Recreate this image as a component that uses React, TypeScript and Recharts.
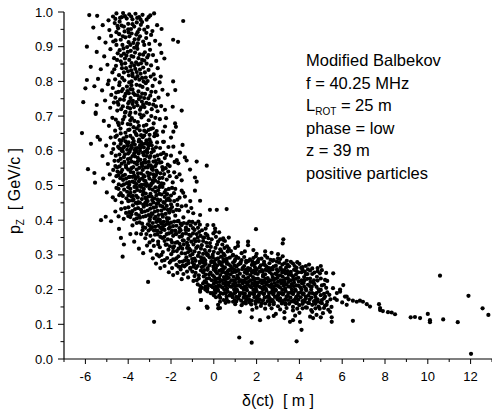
import React from 'react';
import { ScatterChart, Scatter, XAxis, YAxis } from 'recharts';

// tick values
const xTicks = [-7, -6, -5, -4, -3, -2, -1, 0, 1, 2, 3, 4, 5, 6, 7, 8, 9, 10, 11, 12, 13];
const yTicks = [0, 0.05, 0.1, 0.15, 0.2, 0.25, 0.3, 0.35, 0.4, 0.45, 0.5, 0.55, 0.6, 0.65, 0.7, 0.75, 0.8, 0.85, 0.9, 0.95, 1.0];

// annotation lines
const noteLines = ['Modified Balbekov', 'f = 40.25 MHz', 'L|ROT| = 25 m', 'phase = low', 'z = 39 m', 'positive particles'];

// particles: [delta(ct) in m, pz in GeV/c]
const topPts: [number, number][] = [
  [-5.82,0.991],[-5.45,0.989],[-4.92,0.976],[-4.71,0.987],[-4.55,0.996],[-4.38,0.983],[-4.24,0.997],[-4.07,0.981],[-3.95,0.993],[-3.8,0.979],[-3.66,0.995],[-3.49,0.985],[-3.33,0.992],[-3.14,0.978],[-2.97,0.99],[-2.79,0.996],[-1.43,0.974],[-4.15,0.988],[-3.58,0.983],
  [-5.63,0.955],[-5.19,0.962],[-4.88,0.948],[-4.63,0.968],[-4.47,0.953],[-4.31,0.961],[-4.17,0.944],[-4.0,0.966],[-3.87,0.951],[-3.72,0.958],[-3.56,0.942],[-3.41,0.963],[-3.25,0.949],[-3.09,0.957],[-2.87,0.945],[-2.65,0.962],[-4.4,0.972],[-3.98,0.941],[-3.35,0.971],[-2.44,0.951],
  [-5.93,0.9],[-5.35,0.925],[-5.06,0.912],[-4.8,0.931],[-4.59,0.918],[-4.42,0.936],[-4.27,0.905],[-4.13,0.927],[-3.98,0.913],[-3.84,0.938],[-3.7,0.921],[-3.59,0.903],[-3.45,0.93],[-3.3,0.915],[-3.16,0.925],[-3.02,0.908],[-2.93,0.934],[-2.74,0.917],[-2.52,0.906],[-1.9,0.92],[-1.67,0.914],[-4.05,0.899],[-3.76,0.911],[-3.52,0.922],[-3.94,0.93],[-4.55,0.905],
  [-5.47,0.885],[-5.12,0.872],[-4.83,0.893],[-4.66,0.867],[-4.49,0.881],[-4.35,0.858],[-4.22,0.895],[-4.08,0.874],[-3.95,0.862],[-3.88,0.888],[-3.76,0.871],[-3.63,0.855],[-3.57,0.894],[-3.46,0.878],[-3.35,0.862],[-3.22,0.884],[-3.11,0.869],[-2.98,0.891],[-2.84,0.876],[-2.69,0.859],[-2.45,0.882],[-2.31,0.866],[-4.52,0.862],[-3.72,0.897],[-4.33,0.874],[-3.84,0.853],[-3.3,0.877],[-4.02,0.885],[-3.52,0.867],
  [-5.75,0.842],[-5.28,0.835],[-4.97,0.848],[-4.74,0.826],[-4.57,0.845],[-4.43,0.818],[-4.29,0.838],[-4.14,0.852],[-4.01,0.829],[-3.9,0.843],[-3.79,0.815],[-3.67,0.836],[-3.53,0.849],[-3.42,0.822],[-3.3,0.84],[-3.18,0.811],[-3.05,0.833],[-2.93,0.846],[-2.81,0.82],[-2.62,0.838],[-2.48,0.814],[-3.14,0.851],[-3.97,0.817],[-3.6,0.827],[-4.2,0.826],[-3.86,0.832],
  [-5.93,0.804],[-5.41,0.807],[-4.91,0.802],[-4.61,0.806],[-4.18,0.803],[-3.84,0.8],[-3.48,0.805],[-3.09,0.801],[-2.75,0.806],[-1.9,0.8],[-4.4,0.797],[-3.66,0.808],
  [-6.0,0.78],[-5.58,0.786],[-5.22,0.774],[-4.95,0.792],[-4.72,0.781],[-4.56,0.768],[-4.42,0.789],[-4.3,0.772],[-4.17,0.757],[-4.06,0.785],[-3.97,0.766],[-3.89,0.752],[-3.8,0.777],[-3.69,0.761],[-3.61,0.79],[-3.52,0.771],[-3.41,0.755],[-3.33,0.784],[-3.21,0.764],[-3.1,0.778],[-2.97,0.759],[-2.86,0.787],[-2.72,0.77],[-2.58,0.753],[-2.4,0.776],[-1.8,0.775],[-2.15,0.762],[-4.79,0.761],[-4.04,0.772],[-3.85,0.789],[-4.6,0.753],[-3.18,0.795],[-2.53,0.797],[-4.25,0.778],[-3.56,0.76],
  [-6.1,0.74],[-5.47,0.732],[-5.08,0.745],[-4.84,0.724],[-4.67,0.739],[-4.51,0.716],[-4.38,0.748],[-4.25,0.728],[-4.12,0.712],[-4.0,0.737],[-3.91,0.722],[-3.78,0.744],[-3.66,0.71],[-3.57,0.731],[-3.45,0.718],[-3.36,0.742],[-3.24,0.726],[-3.13,0.711],[-3.02,0.735],[-2.9,0.72],[-2.77,0.746],[-2.63,0.714],[-2.46,0.729],[-2.28,0.718],[-1.92,0.727],[-1.5,0.716],[-5.52,0.71],[-4.46,0.733],[-4.2,0.747],[-3.73,0.726],[-3.5,0.749],[-3.06,0.751],[-2.83,0.733],[-4.02,0.725],[-3.3,0.733],
  [-5.14,0.686],[-4.9,0.672],[-4.74,0.695],[-4.61,0.658],[-4.48,0.681],[-4.36,0.664],[-4.24,0.69],[-4.13,0.652],[-4.02,0.677],[-3.94,0.661],[-3.83,0.694],[-3.75,0.668],[-3.64,0.649],[-3.55,0.683],[-3.46,0.659],[-3.38,0.696],[-3.27,0.672],[-3.16,0.654],[-3.04,0.688],[-2.94,0.663],[-2.81,0.679],[-2.67,0.657],[-2.52,0.691],[-2.37,0.655],[-2.23,0.694],[-1.81,0.679],[-1.77,0.669],[-1.89,0.655],[-2.28,0.67],[-4.44,0.674],[-4.17,0.698],[-3.71,0.686],[-3.25,0.658],[-2.73,0.695],[-3.94,0.703],[-3.28,0.702],[-3.9,0.676],[-3.6,0.665],[-2.92,0.7],[-6.16,0.651],[-5.52,0.706],
  [-5.43,0.64],[-5.74,0.62],[-5.32,0.632],[-5.03,0.615],[-4.82,0.638],[-4.66,0.621],[-4.53,0.644],[-4.41,0.607],[-4.3,0.629],[-4.19,0.612],[-4.08,0.641],[-3.98,0.624],[-3.88,0.605],[-3.79,0.636],[-3.69,0.618],[-3.6,0.645],[-3.51,0.627],[-3.42,0.609],[-3.32,0.639],[-3.22,0.621],[-3.12,0.603],[-3.01,0.633],[-2.9,0.616],[-2.78,0.642],[-2.65,0.624],[-2.51,0.608],[-2.33,0.626],[-2.12,0.611],[-1.46,0.617],[-1.89,0.612],[-2.0,0.638],[-2.37,0.626],[-3.9,0.643],[-3.49,0.632],[-3.0,0.646],[-4.05,0.621],[-3.35,0.618],[-4.7,0.605],[-3.74,0.628],[-3.15,0.63],[-2.85,0.605],[-4.4,0.631],[-3.05,0.615],
];

const topFill: [number, number][] = [
  [-4.3,0.985],[-3.86,0.987],[-3.42,0.978],[-4.6,0.98],[-3.05,0.985],
  [-4.2,0.958],[-3.8,0.965],[-3.48,0.95],[-3.15,0.94],[-4.55,0.942],
  [-4.35,0.92],[-3.9,0.905],[-3.62,0.935],[-3.25,0.905],[-4.7,0.915],
  [-4.15,0.866],[-3.68,0.883],[-3.4,0.852],[-3.05,0.876],[-4.4,0.89],
  [-4.1,0.838],[-3.72,0.846],[-3.45,0.834],[-3.22,0.826],[-4.65,0.835],
  [-4.28,0.81],[-3.95,0.797],[-3.57,0.815],[-3.28,0.8],[-2.95,0.814],
  [-4.12,0.764],[-3.76,0.766],[-3.45,0.788],[-3.25,0.752],[-2.92,0.77],
  [-4.33,0.72],[-3.95,0.742],[-3.62,0.74],[-3.4,0.725],[-3.15,0.738],[-2.7,0.728],
  [-4.28,0.68],[-3.9,0.688],[-3.5,0.672],[-3.15,0.675],[-2.85,0.665],[-4.58,0.69],
  [-4.22,0.636],[-3.86,0.615],[-3.56,0.608],[-3.25,0.644],[-2.98,0.625],[-4.6,0.64],[-2.65,0.645],
  [-4.5,0.96],[-3.6,0.97],[-4.0,0.95],[-4.25,0.93],[-3.55,0.91],[-4.2,0.88],[-3.85,0.873],[-3.25,0.86],[-4.3,0.85],[-3.8,0.823],[-3.35,0.81],[-4.45,0.77],[-3.9,0.778],[-3.35,0.765],[-4.5,0.74],[-3.9,0.71],[-3.45,0.705],[-4.35,0.65],[-4.0,0.66],[-3.7,0.655],[-3.4,0.645],[-3.05,0.66],[-2.75,0.65],[-4.15,0.71],[-3.8,0.735],
];

const midPts: [number, number][] = [
  [-5.2,0.585],[-4.95,0.562],[-4.78,0.594],[-4.64,0.571],[-4.52,0.552],[-4.41,0.589],[-4.3,0.563],[-4.2,0.582],[-4.11,0.558],[-4.01,0.576],[-3.93,0.597],[-3.84,0.569],[-3.76,0.553],[-3.68,0.584],[-3.59,0.561],[-3.51,0.592],[-3.43,0.574],[-3.35,0.556],[-3.27,0.587],[-3.18,0.566],[-3.09,0.552],[-3.0,0.58],[-2.91,0.595],[-2.82,0.569],[-2.73,0.556],[-2.63,0.587],[-2.52,0.566],[-2.41,0.553],[-2.29,0.579],[-2.15,0.56],[-2.0,0.586],[-1.83,0.568],[-1.58,0.595],[-1.35,0.581],[-1.27,0.572],[-1.73,0.573],[-1.66,0.564],[-0.8,0.569],[-0.33,0.557],[-4.0,0.592],[-3.62,0.598],[-3.22,0.597],[-2.95,0.558],[-3.48,0.551],[-2.47,0.59],[-4.46,0.571],[-3.8,0.585],[-3.38,0.563],[-3.04,0.568],[-2.77,0.583],[-2.58,0.575],[-4.25,0.598],[-3.71,0.566],[-3.14,0.585],[-2.86,0.552],[-2.35,0.594],[-2.06,0.556],[-4.6,0.556],
  [-5.88,0.547],[-5.58,0.536],[-5.55,0.508],[-5.17,0.52],[-4.86,0.532],[-4.69,0.512],[-4.55,0.527],[-4.44,0.503],[-4.34,0.538],[-4.24,0.516],[-4.15,0.531],[-4.06,0.507],[-3.97,0.524],[-3.88,0.539],[-3.8,0.511],[-3.71,0.528],[-3.62,0.504],[-3.54,0.535],[-3.45,0.518],[-3.37,0.502],[-3.28,0.529],[-3.19,0.513],[-3.1,0.537],[-3.01,0.52],[-2.92,0.505],[-2.83,0.532],[-2.74,0.514],[-2.64,0.538],[-2.54,0.521],[-2.44,0.506],[-2.32,0.533],[-2.2,0.517],[-2.06,0.527],[-1.92,0.509],[-1.74,0.524],[-0.88,0.523],[-0.8,0.511],[-1.5,0.515],[-1.11,0.546],[-2.68,0.543],[-3.92,0.525],[-4.37,0.521],[-3.14,0.505],[-4.7,0.545],[-4.0,0.546],[-3.66,0.519],[-3.32,0.545],[-2.98,0.534],[-2.6,0.51],[-2.38,0.545],[-2.13,0.54],[-1.85,0.538],[-3.5,0.512],[-3.05,0.5],[-4.2,0.503],[-2.9,0.548],[-3.76,0.537],[-3.24,0.526],[-2.78,0.524],[-1.6,0.532],
  [-5.0,0.48],[-4.72,0.466],[-4.55,0.493],[-4.42,0.472],[-4.3,0.451],[-4.19,0.488],[-4.08,0.463],[-3.98,0.472],[-3.89,0.479],[-3.8,0.457],[-3.71,0.496],[-3.62,0.47],[-3.53,0.452],[-3.44,0.484],[-3.36,0.461],[-3.27,0.49],[-3.18,0.477],[-3.09,0.455],[-3.0,0.491],[-2.91,0.468],[-2.82,0.451],[-2.73,0.482],[-2.64,0.46],[-2.55,0.495],[-2.45,0.474],[-2.35,0.452],[-2.24,0.487],[-2.12,0.463],[-2.0,0.471],[-1.86,0.478],[-1.7,0.459],[-1.5,0.485],[-1.43,0.479],[-1.35,0.468],[-0.88,0.485],[-0.64,0.456],[-1.1,0.455],[-3.85,0.468],[-3.4,0.496],[-2.5,0.458],[-3.2,0.465],[-4.0,0.495],[-3.58,0.487],[-3.14,0.499],[-2.86,0.488],[-2.68,0.472],[-2.4,0.496],[-2.18,0.475],[-1.95,0.493],[-1.6,0.465],[-4.35,0.478],[-3.95,0.456],[-3.32,0.473],[-2.96,0.476],[-2.6,0.486],[-2.29,0.467],[-2.05,0.457],[-1.8,0.49],[-3.7,0.482],[-4.6,0.458],
  [-5.27,0.4],[-5.05,0.41],[-4.8,0.397],[-4.6,0.425],[-4.45,0.411],[-4.33,0.432],[-4.21,0.404],[-4.1,0.421],[-3.99,0.437],[-3.9,0.409],[-3.81,0.426],[-3.72,0.402],[-3.63,0.418],[-3.54,0.435],[-3.45,0.407],[-3.36,0.423],[-3.27,0.439],[-3.18,0.412],[-3.09,0.428],[-3.0,0.403],[-2.91,0.42],[-2.82,0.436],[-2.72,0.41],[-2.62,0.427],[-2.52,0.401],[-2.42,0.417],[-2.31,0.433],[-2.2,0.406],[-2.08,0.422],[-1.95,0.438],[-1.8,0.413],[-1.62,0.429],[-1.42,0.408],[-1.2,0.425],[-0.96,0.42],[-0.64,0.415],[-0.72,0.396],[-0.18,0.43],[0.14,0.43],[0.6,0.432],[-2.95,0.445],[-2.2,0.441],[-3.58,0.448],[-2.77,0.405],[-4.0,0.412],[-3.3,0.445],[-2.5,0.442],[-2.0,0.446],[-1.7,0.444],[-2.67,0.447],[-3.78,0.443],[-2.38,0.41],[-1.5,0.44],[-2.86,0.418],[-2.15,0.43],[-1.9,0.425],[-3.12,0.444],[-1.3,0.442],[-1.05,0.435],[-2.58,0.415],
];

const midFill: [number, number][] = [
  [-4.47,0.612],[-4.25,0.607],[-4.02,0.614],[-3.83,0.61],[-3.64,0.607],[-3.45,0.616],[-3.27,0.61],[-3.07,0.607],[-2.95,0.625],[-2.7,0.61],
  [-4.58,0.586],[-4.35,0.577],[-4.15,0.59],[-3.98,0.565],[-3.72,0.593],[-3.55,0.58],[-3.31,0.594],[-3.22,0.574],[-2.97,0.585],[-2.68,0.563],[-2.45,0.567],[-2.22,0.588],
  [-4.5,0.54],[-4.28,0.545],[-4.1,0.552],[-3.85,0.55],[-3.6,0.546],[-3.4,0.535],[-3.2,0.552],[-2.85,0.545],[-2.5,0.535],[-2.25,0.55],[-3.95,0.51],[-3.7,0.508],[-3.25,0.514],[-2.86,0.515],[-2.4,0.522],[-4.1,0.52],
  [-4.25,0.47],[-4.05,0.482],[-3.78,0.47],[-3.55,0.465],[-3.3,0.482],[-3.05,0.468],[-2.78,0.463],[-2.55,0.476],[-2.3,0.48],[-2.1,0.49],[-3.9,0.49],[-3.45,0.5],[-2.95,0.5],[-2.5,0.5],[-4.45,0.49],[-3.65,0.45],[-3.2,0.45],[-2.73,0.495],
  [-4.15,0.435],[-3.85,0.417],[-3.68,0.432],[-3.4,0.43],[-3.22,0.425],[-2.97,0.433],[-2.75,0.425],[-2.45,0.428],[-2.25,0.418],[-2.02,0.432],[-1.75,0.43],[-3.5,0.414],[-3.05,0.415],[-2.6,0.403],[-2.3,0.45],[-1.85,0.455],
  [-3.6,0.392],[-3.35,0.39],[-3.15,0.36],[-3.05,0.37],[-2.88,0.38],[-2.68,0.395],[-2.5,0.378],[-2.35,0.395],[-2.05,0.38],[-1.85,0.396],[-1.55,0.39],[-1.75,0.384],[-3.4,0.36],[-2.75,0.358],[-2.5,0.352],[-2.2,0.36],[-1.98,0.365],[-1.32,0.372],[-1.0,0.395],[-0.65,0.387],
  [-2.05,0.325],[-1.78,0.335],[-1.4,0.33],[-1.15,0.318],[-0.9,0.345],[-0.75,0.325],[-0.35,0.335],[-0.2,0.312],[0.08,0.32],[0.4,0.33],[0.7,0.318],[-1.65,0.318],[-2.3,0.34],[-0.5,0.35],[-1.2,0.308],
  [-4.35,0.62],[-4.12,0.627],[-3.78,0.623],[-3.4,0.625],[-3.1,0.62],
  [-4.3,0.6],[-4.05,0.603],[-3.7,0.602],[-3.45,0.6],[-3.1,0.595],[-2.8,0.6],
  [-4.4,0.555],[-4.18,0.568],[-3.9,0.578],[-3.55,0.57],[-3.3,0.565],[-3.05,0.557],[-2.72,0.57],
  [-4.45,0.53],[-4.25,0.528],[-3.8,0.525],[-3.55,0.525],[-3.35,0.52],[-3.05,0.528],[-2.7,0.53],
  [-4.3,0.5],[-3.95,0.502],[-3.6,0.495],[-3.25,0.502],[-2.85,0.508],[-2.35,0.505],
  [-4.0,0.455],[-3.75,0.46],[-3.45,0.45],[-3.15,0.46],[-2.88,0.458],[-2.6,0.45],[-2.2,0.458],
  [-3.95,0.423],[-3.6,0.405],[-3.3,0.41],[-2.95,0.41],[-2.7,0.438],[-2.4,0.44],[-2.1,0.405],
  [-3.3,0.38],[-3.0,0.385],[-2.7,0.37],[-2.4,0.38],[-2.1,0.39],[-1.75,0.36],[-1.45,0.36],[-1.15,0.358],[-0.8,0.36],[-0.45,0.35],[-3.9,0.36],
  [-2.2,0.33],[-1.9,0.32],[-1.45,0.342],[-0.7,0.34],
];

const lowPts: [number, number][] = [
  [-4.43,0.375],[-4.34,0.349],[-3.8,0.385],[-3.62,0.362],[-3.47,0.394],[-3.33,0.371],[-3.08,0.388],[-2.96,0.375],[-2.85,0.392],[-2.74,0.381],[-2.63,0.369],[-2.52,0.396],[-2.41,0.374],[-2.31,0.385],[-2.2,0.389],[-2.1,0.376],[-2.0,0.393],[-1.9,0.383],[-1.8,0.37],[-1.7,0.397],[-1.6,0.377],[-1.5,0.386],[-1.4,0.392],[-1.3,0.379],[-1.19,0.372],[-1.08,0.385],[-0.97,0.377],[-0.86,0.39],[-0.74,0.378],[-0.55,0.371],[-0.38,0.376],[-0.3,0.386],[-0.02,0.386],[0.06,0.376],[1.97,0.374],[-3.0,0.398],[-1.65,0.398],[-1.25,0.39],[-0.9,0.372],[0.25,0.365],[-2.3,0.372],[-2.6,0.384],[-2.18,0.397],[-1.95,0.37],[-1.55,0.371],[-1.15,0.396],[-2.8,0.37],[-3.2,0.378],[-2.45,0.39],[0.06,0.367],
  [-4.2,0.33],[-3.72,0.338],[-3.2,0.348],[-2.96,0.355],[-2.85,0.342],[-2.63,0.359],[-2.6,0.338],[-2.4,0.349],[-2.31,0.352],[-2.15,0.345],[-2.1,0.362],[-2.0,0.343],[-1.9,0.355],[-1.8,0.36],[-1.7,0.337],[-1.6,0.352],[-1.5,0.354],[-1.4,0.341],[-1.3,0.362],[-1.19,0.346],[-1.08,0.355],[-1.05,0.338],[-0.97,0.362],[-0.86,0.339],[-0.75,0.35],[-0.62,0.355],[-0.5,0.34],[-0.38,0.361],[-0.25,0.348],[-0.1,0.345],[-0.02,0.362],[0.1,0.352],[0.3,0.345],[0.44,0.348],[0.45,0.343],[0.52,0.34],[-0.18,0.334],[3.25,0.345],[3.22,0.333],[1.13,0.336],[1.6,0.338],[-2.48,0.365],[-1.95,0.336],[-1.25,0.335],[-0.68,0.366],[0.2,0.338],[-3.0,0.336],[-1.62,0.366],[-0.3,0.356],[0.7,0.35],
  [-3.5,0.318],[-3.3,0.305],[-3.12,0.327],[-2.95,0.312],[-2.8,0.326],[-2.66,0.301],[-2.52,0.322],[-2.38,0.308],[-2.25,0.329],[-2.12,0.315],[-1.99,0.302],[-1.86,0.325],[-1.73,0.311],[-1.6,0.332],[-1.55,0.323],[-1.47,0.318],[-1.34,0.304],[-1.21,0.327],[-1.08,0.313],[-0.95,0.33],[-0.82,0.32],[-0.69,0.306],[-0.56,0.328],[-0.42,0.314],[-0.28,0.301],[-0.14,0.323],[0.0,0.309],[0.15,0.33],[0.3,0.316],[0.46,0.303],[0.62,0.325],[0.8,0.311],[1.0,0.32],[1.13,0.326],[1.3,0.305],[1.6,0.328],[1.85,0.314],[2.0,0.303],[2.4,0.31],[3.0,0.302],[-0.5,0.303],[-1.0,0.302],[-2.6,0.33],[-0.3,0.325],[0.5,0.32],[1.45,0.31],[-1.9,0.31],[-0.05,0.3],[0.9,0.3],[2.7,0.306],[-4.26,0.295],
  [-1.75,0.29],[-1.2,0.283],[-0.6,0.293],[-0.05,0.293],[0.45,0.288],[-1.5,0.305],[-0.9,0.31],[-0.35,0.305],[0.2,0.305],[0.65,0.31],[-2.45,0.3],[-1.25,0.32],[-0.6,0.318],[0.35,0.31],
];

const corePts: [number, number][] = [
  [-2.85,0.29],[-2.55,0.296],[-2.42,0.283],[-2.18,0.291],[-1.85,0.286],[-1.65,0.296],[-1.46,0.281],[-1.28,0.293],[-1.01,0.288],[-0.74,0.297],[-0.65,0.281],[-0.47,0.29],[-0.2,0.293],[-0.11,0.282],[0.07,0.286],[0.34,0.295],[0.43,0.28],[0.61,0.289],[0.88,0.298],[0.97,0.282],[1.15,0.291],[1.42,0.294],[1.51,0.283],[1.69,0.287],[1.96,0.296],[2.05,0.282],[2.23,0.289],[2.5,0.292],[2.8,0.285],[3.1,0.288],[3.41,0.283],[3.22,0.296],[-1.1,0.298],[-0.3,0.299],[0.2,0.29],[0.75,0.292],[1.3,0.285],[1.85,0.291],[2.4,0.298],[2.65,0.286],[-0.85,0.283],[-1.6,0.28],[0.5,0.299],[1.05,0.295],[-2.0,0.283],[-0.55,0.286],[0.25,0.28],
  [-2.7,0.275],[-2.3,0.268],[-2.06,0.278],[-1.95,0.262],[-1.75,0.271],[-1.55,0.265],[-1.37,0.267],[-1.19,0.276],[-1.1,0.263],[-0.92,0.272],[-0.83,0.262],[-0.65,0.277],[-0.56,0.265],[-0.38,0.274],[-0.29,0.262],[-0.11,0.279],[-0.02,0.266],[0.16,0.27],[0.28,0.278],[0.52,0.264],[0.61,0.275],[0.7,0.273],[0.85,0.262],[0.97,0.27],[1.06,0.266],[1.24,0.275],[1.36,0.263],[1.51,0.278],[1.6,0.262],[1.78,0.271],[1.92,0.265],[2.05,0.279],[2.14,0.264],[2.32,0.273],[2.45,0.267],[2.6,0.276],[2.7,0.262],[2.9,0.269],[3.05,0.278],[3.2,0.272],[3.38,0.264],[3.52,0.267],[3.7,0.275],[3.87,0.263],[4.0,0.274],[4.3,0.268],[4.85,0.262],[-1.45,0.27],[-0.75,0.268],[0.05,0.274],[0.4,0.268],[1.15,0.272],[1.95,0.277],[2.55,0.263],[3.3,0.276],[-0.2,0.27],[0.9,0.278],[1.7,0.26],[2.2,0.27],[-1.0,0.278],[3.9,0.279],[4.15,0.265],
  [-2.1,0.25],[-1.55,0.258],[-1.42,0.245],[-1.1,0.26],[-0.85,0.248],[-0.6,0.255],[-0.38,0.243],[-0.29,0.257],[-0.15,0.249],[0.08,0.253],[0.25,0.254],[0.3,0.242],[0.55,0.248],[0.79,0.257],[0.78,0.244],[1.0,0.251],[1.22,0.246],[1.33,0.259],[1.45,0.25],[1.7,0.242],[1.87,0.255],[1.93,0.247],[2.15,0.252],[2.41,0.257],[2.4,0.244],[2.62,0.25],[2.88,0.246],[3.0,0.253],[3.1,0.241],[3.3,0.256],[3.35,0.247],[3.6,0.251],[3.63,0.242],[3.84,0.243],[4.1,0.25],[4.14,0.258],[4.38,0.245],[4.5,0.255],[4.7,0.249],[4.96,0.247],[5.58,0.247],[-0.7,0.241],[0.45,0.259],[1.1,0.24],[1.6,0.254],[2.0,0.259],[2.75,0.258],[3.5,0.243],[4.25,0.252],[-1.9,0.242],[-0.05,0.241],[0.65,0.245],[1.8,0.249],[2.3,0.242],[2.95,0.258],[3.75,0.257],[0.95,0.258],[-1.25,0.252],[5.05,0.256],
  [-3.07,0.222],[-1.2,0.235],[-0.95,0.225],[-0.7,0.232],[-0.47,0.238],[-0.43,0.224],[-0.22,0.233],[0.02,0.236],[0.05,0.226],[0.25,0.233],[0.28,0.222],[0.47,0.236],[0.5,0.228],[0.7,0.234],[0.73,0.221],[0.92,0.237],[0.95,0.227],[1.15,0.233],[1.18,0.222],[1.38,0.238],[1.4,0.226],[1.6,0.234],[1.63,0.222],[1.83,0.236],[1.86,0.228],[2.06,0.232],[2.08,0.221],[2.3,0.238],[2.32,0.226],[2.52,0.233],[2.55,0.223],[2.75,0.236],[2.78,0.228],[2.98,0.234],[3.0,0.222],[3.22,0.237],[3.25,0.227],[3.46,0.233],[3.48,0.222],[3.7,0.238],[3.72,0.229],[3.95,0.234],[3.97,0.223],[4.22,0.236],[4.24,0.227],[4.5,0.232],[4.52,0.222],[4.82,0.237],[4.85,0.226],[5.2,0.228],[5.3,0.225],[-1.5,0.23],[-0.9,0.239],[0.6,0.239],
  [-0.75,0.215],[-0.5,0.218],[-0.55,0.205],[-0.25,0.213],[-0.3,0.203],[0.0,0.217],[-0.05,0.207],[0.22,0.212],[0.18,0.202],[0.45,0.218],[0.4,0.206],[0.68,0.213],[0.62,0.203],[0.9,0.216],[0.85,0.208],[1.12,0.212],[1.07,0.201],[1.35,0.218],[1.3,0.206],[1.57,0.214],[1.52,0.204],[1.8,0.217],[1.75,0.207],[2.02,0.212],[1.97,0.202],[2.25,0.218],[2.2,0.206],[2.48,0.214],[2.43,0.203],[2.7,0.216],[2.65,0.208],[2.93,0.212],[2.88,0.201],[3.16,0.218],[3.1,0.206],[3.4,0.214],[3.34,0.203],[3.63,0.216],[3.57,0.208],[3.87,0.212],[3.8,0.201],[4.12,0.218],[4.05,0.206],[4.4,0.214],[4.3,0.203],[4.7,0.216],[4.58,0.208],[5.05,0.212],[4.9,0.201],[5.25,0.205],[5.57,0.204],[-0.64,0.2],
];

const coreFill: [number, number][] = [
  [-1.9,0.287],[-1.35,0.284],[-0.9,0.289],[-0.4,0.284],[0.12,0.288],[0.55,0.283],[1.0,0.287],[1.6,0.282],[2.1,0.288],[2.75,0.283],[3.0,0.29],[-2.3,0.285],
  [-2.5,0.262],[-1.65,0.266],[-1.28,0.272],[-0.47,0.268],[0.1,0.262],[0.34,0.272],[0.78,0.268],[1.42,0.268],[1.88,0.273],[2.38,0.271],[2.8,0.266],[3.12,0.263],[3.45,0.271],[3.78,0.268],[4.08,0.263],[4.45,0.272],[4.6,0.261],[5.0,0.268],[-0.95,0.266],
  [-1.7,0.248],[-1.0,0.252],[-0.5,0.25],[-0.22,0.244],[0.15,0.247],[0.4,0.25],[0.88,0.25],[1.15,0.256],[1.55,0.246],[1.78,0.252],[2.05,0.245],[2.28,0.252],[2.52,0.255],[2.72,0.244],[3.2,0.249],[3.45,0.253],[3.95,0.25],[4.3,0.244],[4.6,0.245],[4.85,0.253],[5.25,0.248],[0.65,0.253],[2.95,0.243],
  [-0.8,0.227],[-0.33,0.231],[-0.1,0.227],[0.15,0.231],[0.38,0.227],[0.6,0.231],[0.83,0.227],[1.06,0.231],[1.28,0.227],[1.5,0.231],[1.73,0.227],[1.95,0.231],[2.2,0.227],[2.42,0.231],[2.65,0.227],[2.88,0.231],[3.12,0.227],[3.35,0.231],[3.6,0.227],[3.84,0.231],[4.1,0.227],[4.37,0.231],[4.68,0.227],[5.0,0.232],
  [-0.62,0.21],[-0.38,0.209],[-0.15,0.211],[0.1,0.209],[0.32,0.21],[0.55,0.211],[0.78,0.209],[1.0,0.21],[1.22,0.211],[1.45,0.209],[1.68,0.21],[1.9,0.211],[2.12,0.209],[2.35,0.21],[2.58,0.211],[2.8,0.209],[3.03,0.21],[3.27,0.211],[3.5,0.209],[3.73,0.21],[3.97,0.211],[4.22,0.209],[4.5,0.21],[4.8,0.208],[5.15,0.214],
  [-0.15,0.19],[0.08,0.191],[0.32,0.19],[0.55,0.189],[0.78,0.19],[1.0,0.191],[1.22,0.19],[1.45,0.189],[1.68,0.19],[1.9,0.191],[2.12,0.19],[2.35,0.189],[2.58,0.19],[2.8,0.191],[3.02,0.19],[3.25,0.189],[3.48,0.19],[3.72,0.191],[3.95,0.19],[4.2,0.189],[4.47,0.19],[4.8,0.19],[5.15,0.188],
  [0.45,0.17],[0.98,0.17],[1.28,0.168],[1.52,0.171],[1.78,0.168],[2.05,0.172],[2.3,0.169],[2.75,0.17],[2.98,0.172],[3.22,0.167],[3.47,0.17],[3.72,0.169],[3.95,0.171],[4.22,0.169],[4.48,0.171],[4.75,0.169],[5.05,0.17],[5.45,0.172],
  [1.0,0.158],[1.5,0.16],[1.95,0.159],[2.4,0.16],[2.8,0.158],[3.18,0.16],[3.52,0.159],[3.85,0.161],[4.15,0.159],[4.45,0.161],[4.75,0.159],[5.05,0.161],
  [2.0,0.148],[2.7,0.146],[3.4,0.147],[3.9,0.145],[4.35,0.148],[4.75,0.146],[5.15,0.147],
  [-0.5,0.279],[0.0,0.28],[0.6,0.281],[1.25,0.279],[1.8,0.281],[2.35,0.28],[2.95,0.281],[3.6,0.28],
  [-0.45,0.256],[0.0,0.258],[0.35,0.257],[0.7,0.256],[1.1,0.254],[1.5,0.257],[1.95,0.253],[2.25,0.256],[2.6,0.256],[3.15,0.257],[3.85,0.254],[4.4,0.258],
  [-0.35,0.22],[0.12,0.221],[0.58,0.22],[1.0,0.22],[1.5,0.221],[1.95,0.22],[2.4,0.221],[2.85,0.219],[3.3,0.221],[3.75,0.22],[4.2,0.219],[4.65,0.22],
  [-0.4,0.2],[0.05,0.199],[0.5,0.2],[0.95,0.2],[1.4,0.2],[1.85,0.199],[2.3,0.2],[2.75,0.2],[3.2,0.199],[3.65,0.2],[4.1,0.2],[4.55,0.2],[5.0,0.199],
  [0.1,0.178],[0.6,0.18],[1.05,0.179],[1.55,0.18],[2.05,0.18],[2.5,0.179],[2.95,0.18],[3.4,0.18],[3.85,0.179],[4.3,0.18],[4.75,0.179],[5.2,0.18],
  [0.9,0.165],[1.5,0.166],[2.1,0.165],[2.65,0.165],[3.2,0.166],[3.75,0.165],[4.25,0.165],[4.85,0.166],
];

const basePts: [number, number][] = [
  [-0.3,0.195],[-0.64,0.194],[-0.05,0.19],[0.2,0.197],[0.43,0.188],[0.65,0.194],[0.88,0.185],[1.1,0.196],[1.2,0.183],[1.33,0.19],[1.55,0.198],[1.42,0.185],[1.78,0.189],[1.65,0.182],[2.0,0.196],[1.88,0.186],[2.23,0.191],[2.1,0.183],[2.46,0.197],[2.33,0.187],[2.68,0.192],[2.56,0.181],[2.9,0.198],[2.78,0.186],[3.13,0.19],[3.0,0.183],[3.36,0.196],[3.23,0.186],[3.6,0.191],[3.46,0.182],[3.83,0.197],[3.7,0.187],[4.07,0.192],[3.93,0.183],[4.32,0.198],[4.17,0.186],[4.6,0.19],[4.42,0.183],[4.92,0.195],[4.7,0.187],[5.3,0.192],[5.0,0.184],[5.4,0.185],[5.75,0.19],[5.9,0.194],[0.0,0.184],[0.25,0.182],[0.5,0.199],[0.73,0.183],[0.96,0.19],
  [-0.6,0.17],[0.29,0.165],[0.3,0.176],[0.6,0.172],[0.7,0.165],[0.88,0.178],[1.05,0.166],[1.15,0.174],[1.38,0.162],[1.4,0.177],[1.65,0.171],[1.68,0.163],[1.9,0.178],[1.96,0.166],[2.14,0.172],[2.24,0.161],[2.38,0.177],[2.52,0.167],[2.62,0.174],[2.8,0.163],[2.86,0.179],[3.08,0.168],[3.1,0.175],[3.34,0.172],[3.35,0.161],[3.58,0.177],[3.62,0.166],[3.82,0.173],[3.88,0.162],[4.06,0.178],[4.14,0.167],[4.3,0.174],[4.4,0.162],[4.56,0.177],[4.68,0.166],[4.85,0.172],[4.98,0.163],[5.15,0.175],[5.3,0.165],[5.75,0.17],[0.55,0.162],[2.0,0.17],
  [-0.33,0.151],[0.2,0.156],[0.21,0.146],[0.29,0.147],[1.3,0.155],[1.22,0.136],[1.75,0.157],[2.2,0.153],[2.6,0.156],[3.0,0.152],[3.35,0.157],[3.7,0.15],[4.0,0.155],[4.3,0.149],[4.6,0.156],[4.9,0.151],[5.2,0.154],[5.27,0.156],[5.5,0.15],[2.4,0.145],[3.1,0.143],[3.7,0.14],[4.15,0.146],[4.55,0.141],[4.95,0.145],[5.35,0.142],[3.3,0.135],[4.0,0.133],[4.6,0.136],[5.1,0.132],[5.43,0.136],[1.77,0.12],[2.16,0.112],[2.55,0.12],[-0.3,0.148],[-1.19,0.146],[1.8,0.142],[2.9,0.13],
  [3.8,0.125],[4.5,0.122],[4.8,0.127],[4.64,0.118],[5.0,0.12],[5.51,0.12],[5.51,0.107],[4.03,0.107],[3.7,0.112],[3.56,0.107],[3.3,0.118],[2.8,0.124],
];

const tailPts: [number, number][] = [
  [6.05,0.213],[6.13,0.18],[6.21,0.156],[6.21,0.18],[6.5,0.168],[6.5,0.11],[6.68,0.165],[6.83,0.168],[6.97,0.165],[7.15,0.158],[7.3,0.151],[7.72,0.158],[7.77,0.147],[7.77,0.141],[7.9,0.138],[8.14,0.135],[8.31,0.134],[8.47,0.129],[9.2,0.12],[9.4,0.121],[9.64,0.118],[10.0,0.13],[10.1,0.112],[10.1,0.106],[10.72,0.114],[11.4,0.106],[11.9,0.182],[12.56,0.146],[12.83,0.127],[12.02,0.015],[10.57,0.24],[5.9,0.2],[6.3,0.172],[6.0,0.163],[5.65,0.175],
];

const strayPts: [number, number][] = [
  [1.19,0.062],[1.77,0.047],[3.87,0.051],[4.1,0.084],[-2.79,0.107],[-0.6,0.17],[-0.3,0.148],
];

const points = [...topPts, ...topFill, ...midPts, ...midFill, ...lowPts, ...corePts, ...coreFill, ...basePts, ...tailPts, ...strayPts].map(
  ([x, y]) => ({ x, y })
);

const FONT = '"Liberation Sans", Arial, sans-serif';

const XTick = ({ x, y, payload }: any) => {
  const v = payload.value;
  const major = v % 2 === 0;
  return (
    <g>
      <line x1={x} x2={x} y1={y} y2={y + (major ? 5 : 3)} stroke="#000" strokeWidth={1} />
      {major && (
        <text x={x} y={y + 22} textAnchor="middle" fontSize={13} fontFamily={FONT} fill="#000">
          {v}
        </text>
      )}
    </g>
  );
};

const YTick = ({ x, y, payload }: any) => {
  const v = payload.value;
  const major = Math.round(v * 100) % 10 === 0;
  return (
    <g>
      <line x1={x - (major ? 6 : 3.5)} x2={x} y1={y} y2={y} stroke="#000" strokeWidth={1} />
      {major && (
        <text x={x - 11} y={y + 4.5} textAnchor="end" fontSize={13} fontFamily={FONT} fill="#000">
          {v.toFixed(1)}
        </text>
      )}
    </g>
  );
};

const Dot = (props: any) => <circle cx={props.cx} cy={props.cy} r={2.1} fill="#000" />;

export default function App() {
  return (
    <div style={{ position: 'absolute', left: 0, top: 0, width: 492, height: 415, background: '#fff' }}>
      <ScatterChart width={492} height={415} margin={{ top: 12, right: 0, bottom: 0, left: 0 }}>
        <XAxis
          type="number"
          dataKey="x"
          domain={[-7, 13]}
          ticks={xTicks}
          interval={0}
          height={56}
          tickSize={0}
          tickMargin={0}
          tickLine={false}
          tick={<XTick />}
          axisLine={{ stroke: '#000', strokeWidth: 1.2 }}
        />
        <YAxis
          type="number"
          dataKey="y"
          domain={[0, 1]}
          ticks={yTicks}
          interval={0}
          width={64}
          tickSize={0}
          tickMargin={0}
          tickLine={false}
          tick={<YTick />}
          axisLine={{ stroke: '#000', strokeWidth: 1.2 }}
        />
        <Scatter data={points} fill="#000" shape={<Dot />} isAnimationActive={false} />
      </ScatterChart>
      <svg width={492} height={415} style={{ position: 'absolute', left: 0, top: 0, pointerEvents: 'none' }}>
        <g fontFamily={FONT} fill="#000">
          {noteLines.map((line, i) => {
            const parts = line.split('|');
            return (
              <text key={i} x={306} y={66 + i * 22.5} fontSize={16.5}>
                {parts.length === 1 ? (
                  line
                ) : (
                  <>
                    {parts[0]}
                    <tspan fontSize={10} dy={4}>{parts[1]}</tspan>
                    <tspan dy={-4}>{parts[2]}</tspan>
                  </>
                )}
              </text>
            );
          })}
          <text x={278} y={406} textAnchor="middle" fontSize={16} style={{ whiteSpace: 'pre' }}>
            {'δ(ct)  [ m ]'}
          </text>
          <text
            x={0}
            y={0}
            transform="translate(20,191) rotate(-90)"
            textAnchor="middle"
            fontSize={16}
            style={{ whiteSpace: 'pre' }}
          >
            p<tspan fontSize={10} dy={4}>Z</tspan>
            <tspan dy={-4}>{'  [ GeV/c ]'}</tspan>
          </text>
        </g>
      </svg>
    </div>
  );
}
